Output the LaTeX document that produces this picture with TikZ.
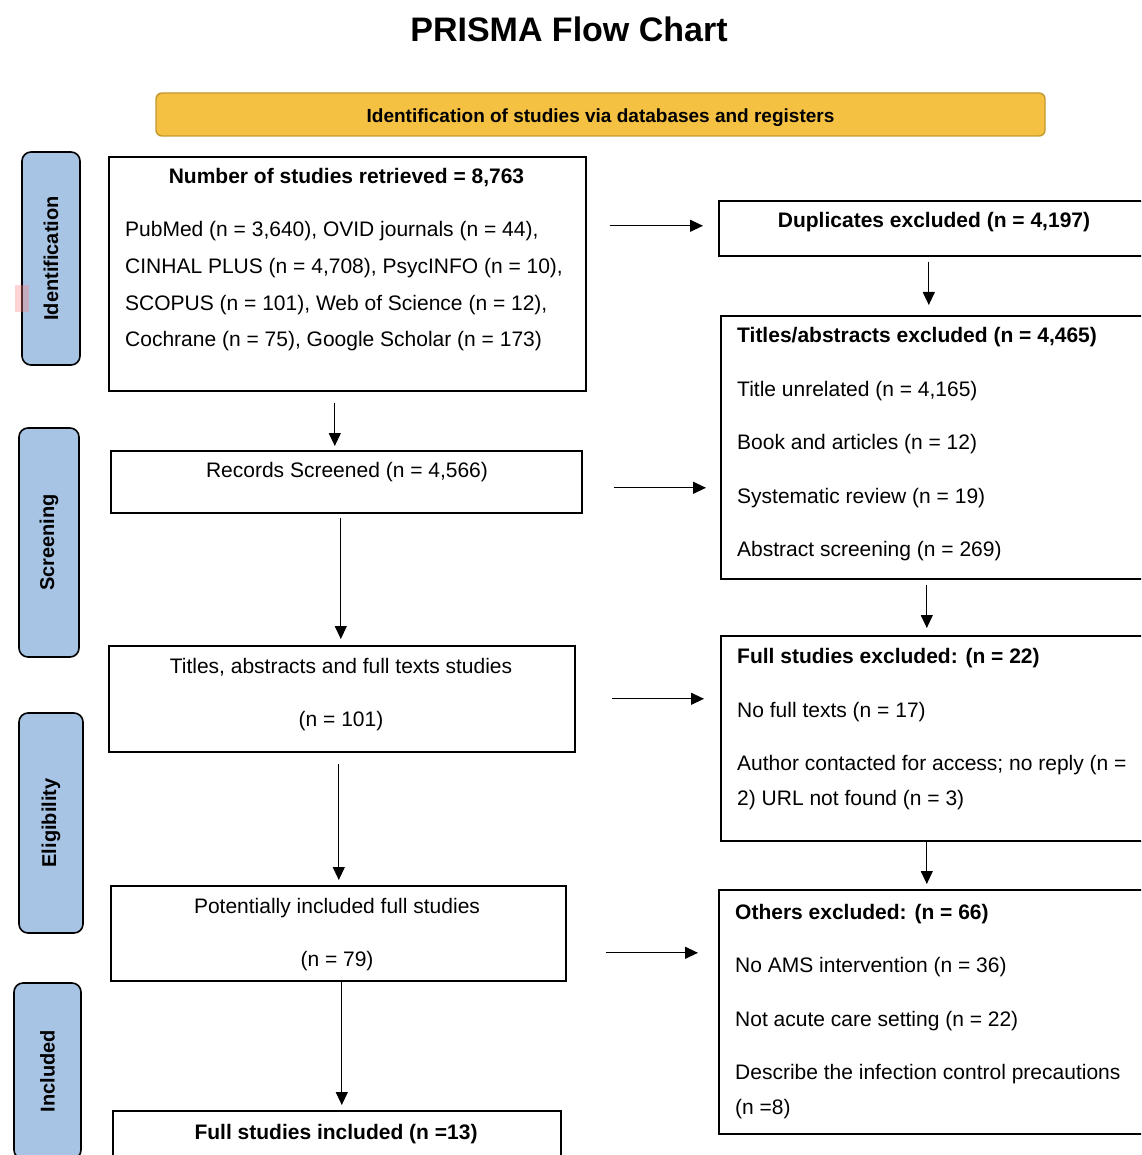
\documentclass[tikz,border=0pt]{standalone}
\usepackage{fontspec}
\setmainfont{Liberation Sans}
\usetikzlibrary{arrows.meta, positioning, calc}
\definecolor{bannerfill}{RGB}{245,193,66}
\definecolor{bannerline}{RGB}{196,152,48}
\definecolor{phasefill}{RGB}{168,196,228}
\tikzset{
  box/.style    ={draw, line width=1.6pt, anchor=north west, inner sep=0pt},
  phase/.style  ={draw, line width=1.6pt, rounded corners=9pt, fill=phasefill,
                  rotate=90, inner sep=0pt, font=\bfseries\fontsize{20}{24}\selectfont},
  banner/.style ={draw=bannerline, line width=1.4pt, fill=bannerfill, rounded corners=6pt,
                  inner sep=0pt, font=\bfseries\fontsize{19}{23}\selectfont},
  txt/.style    ={font=\fontsize{21}{25}\selectfont, inner sep=0pt, anchor=base west},
  ctr/.style    ={font=\fontsize{21}{25}\selectfont, inner sep=0pt, anchor=base},
  hd/.style     ={font=\bfseries\fontsize{21}{25}\selectfont, inner sep=0pt},
  arr/.style    ={-{Triangle[length=13pt, width=12pt]}, line width=1.2pt},
}

\begin{document}
\begin{tikzpicture}[x=1pt, y=-1pt]
  \useasboundingbox (0,0) rectangle (1141,1155);
  \clip (0,0) rectangle (1141,1155);

  % heading and banner
  \node[font=\bfseries\fontsize{34}{40}\selectfont, anchor=base] (title) at (569,42) {PRISMA Flow Chart};
  \node[banner, minimum width=889pt, minimum height=43pt] (band) at (600.5,114.5) {};
  \node[banner, draw=none, fill=none, anchor=base] (bandtxt) at (600.5,122.5)
        {Identification of studies via databases and registers};

  % phase bars
  \node[phase, minimum width=213pt, minimum height=58pt] (idp) at (51,258.5)  {Identification};
  \node[phase, minimum width=229pt, minimum height=60pt] (scp) at (49,542.5)  {Screening};
  \node[phase, minimum width=220pt, minimum height=64pt] (elp) at (51,823)    {Eligibility};
  \node[phase, minimum width=176pt, minimum height=67pt] (inp) at (47.5,1071) {Included};
  \fill[red!50, opacity=0.35] (15,285) rectangle (29,312);

  % main column
  \node[box, minimum width=477pt, minimum height=234pt] (ret) at (108,156)  {};
  \node[box, minimum width=471pt, minimum height=62pt]  (scr) at (110,450)  {};
  \node[box, minimum width=466pt, minimum height=106pt] (ful) at (108,645)  {};
  \node[box, minimum width=455pt, minimum height=95pt]  (pot) at (110,885)  {};
  \node[box, minimum width=448pt, minimum height=65pt]  (inc) at (112,1110) {};

  \node[hd, anchor=base] (rethd) at (346.5,184) {Number of studies retrieved = 8,763};
  \node[txt] (ret1) at (125,237) {PubMed (n = 3,640), OVID journals (n = 44),};
  \node[txt] (ret2) at (125,274) {CINHAL PLUS (n = 4,708), PsycINFO (n = 10),};
  \node[txt] (ret3) at (125,310) {SCOPUS (n = 101), Web of Science (n = 12),};
  \node[txt] (ret4) at (125,346) {Cochrane (n = 75), Google Scholar (n = 173)};

  \node[ctr] (scr1) at (347,477) {Records Screened (n = 4,566)};
  \node[ctr] (ful1) at (341,673) {Titles, abstracts and full texts studies};
  \node[ctr] (ful2) at (341,726) {(n = 101)};
  \node[ctr] (pot1) at (337,913) {Potentially included full studies};
  \node[ctr] (pot2) at (337,966) {(n = 79)};
  \node[hd, anchor=base] (inc1) at (336,1139) {Full studies included (n =13)};

  % exclusion column
  \node[box, minimum width=432pt, minimum height=55pt]  (dup) at (718,200) {};
  \node[box, minimum width=430pt, minimum height=263pt] (tab) at (720,315) {};
  \node[box, minimum width=430pt, minimum height=205pt] (fse) at (720,635) {};
  \node[box, minimum width=432pt, minimum height=244pt] (oth) at (718,889) {};

  \node[hd, anchor=base] (dup1) at (934,228) {Duplicates excluded (n = 4,197)};

  \node[hd, anchor=base west] (tabhd) at (737,342) {Titles/abstracts excluded (n = 4,465)};
  \node[txt] (tab1) at (737,396) {Title unrelated (n = 4,165)};
  \node[txt] (tab2) at (737,449) {Book and articles (n = 12)};
  \node[txt] (tab3) at (737,503) {Systematic review (n = 19)};
  \node[txt] (tab4) at (737,556) {Abstract screening (n = 269)};

  \node[hd, anchor=base west] (fsehd) at (737,663) {Full studies excluded: (n = 22)};
  \node[txt] (fse1) at (737,717) {No full texts (n = 17)};
  \node[txt] (fse2) at (737,770) {Author contacted for access; no reply (n =};
  \node[txt] (fse3) at (737,805) {2) URL not found (n = 3)};

  \node[hd, anchor=base west] (othhd) at (735,919) {Others excluded: (n = 66)};
  \node[txt] (oth1) at (735,972)  {No AMS intervention (n = 36)};
  \node[txt] (oth2) at (735,1026) {Not acute care setting (n = 22)};
  \node[txt] (oth3) at (735,1079) {Describe the infection control precautions};
  \node[txt] (oth4) at (735,1114) {(n =8)};

  % downward arrows
  \draw[arr, shorten <=11pt, shorten >=4pt] ([xshift=-12.5pt]ret.south) -- ([xshift=-11.5pt]scr.north);
  \draw[arr, shorten <=4pt, shorten >=6pt]  ([xshift=-5.5pt]scr.south)  -- ([xshift=-1pt]ful.north);
  \draw[arr, shorten <=11pt, shorten >=5pt] ([xshift=-3pt]ful.south)    -- ([xshift=0.5pt]pot.north);
  \draw[arr, shorten >=5pt]                 ([xshift=3.5pt]pot.south)   -- ([xshift=5pt]inc.north);
  \draw[arr, shorten <=5pt, shorten >=10pt] ([xshift=-6pt]dup.south)    -- ([xshift=-7pt]tab.north);
  \draw[arr, shorten <=5pt, shorten >=7pt]  ([xshift=-9pt]tab.south)    -- ([xshift=-9pt]fse.north);
  \draw[arr, shorten >=5pt]                 ([xshift=-9pt]fse.south)    -- ([xshift=-8pt]oth.north);

  % sideways arrows
  \draw[arr, shorten <=23pt, shorten >=15pt] ([yshift=2.5pt]ret.east |- dup.west) -- ([yshift=2.5pt]dup.west);
  \draw[arr, shorten <=31pt, shorten >=14pt] ([yshift=-6pt]scr.east) -- ([yshift=-6pt]scr.east -| tab.west);
  \draw[arr, shorten <=36pt, shorten >=16pt] (ful.east) -- (ful.east -| fse.west);
  \draw[arr, shorten <=39pt, shorten >=20pt] ([yshift=-19.5pt]pot.east) -- ([yshift=-19.5pt]pot.east -| oth.west);
\end{tikzpicture}
\end{document}
